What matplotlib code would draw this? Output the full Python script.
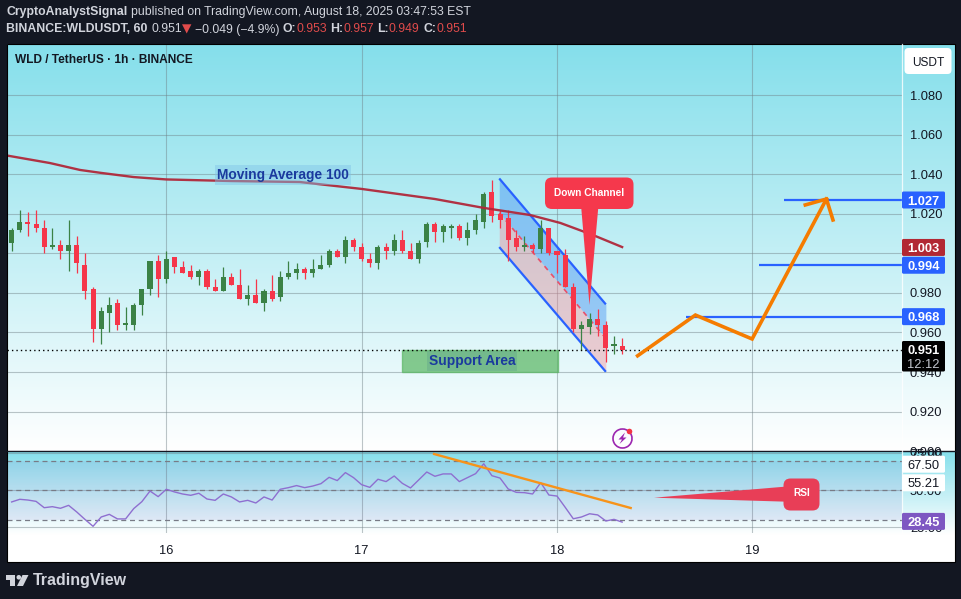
import matplotlib
matplotlib.use("Agg")
import matplotlib.pyplot as plt
import numpy as np
from matplotlib.patches import FancyBboxPatch, Polygon, Rectangle, Circle, Arc

plt.rcParams['font.family'] = ['Liberation Sans', 'DejaVu Sans']

# candles, hourly, hour 0 = Aug 16 00:00
opens = [1.005, 1.012, 1.016, 1.015, 1.013, 1.003, 1.004, 1.001, 1.004, 0.994,
	0.982, 0.962, 0.970, 0.975, 0.964, 0.964, 0.974, 0.982, 0.996, 0.987,
	0.998, 0.993, 0.991, 0.988, 0.991, 0.983, 0.981, 0.988, 0.984, 0.977,
	0.979, 0.975, 0.981, 0.978, 0.988, 0.990, 0.992, 0.990, 0.992, 0.994,
	1.001, 0.998, 1.007, 1.003, 0.997, 0.995, 1.003, 1.001, 1.007, 1.001,
	0.997, 1.006, 1.015, 1.011, 1.013, 1.014, 1.008, 1.012, 1.016, 1.031,
	1.020, 1.018, 1.008, 1.003, 1.004, 1.002, 1.013, 1.001, 0.999, 0.983,
	0.962, 0.963, 0.967, 0.964, 0.953, 0.953]
highs = [1.013, 1.022, 1.021, 1.022, 1.017, 1.013, 1.007, 1.017, 1.009, 1.000,
	0.983, 0.973, 0.978, 0.977, 0.973, 0.975, 0.982, 0.996, 0.999, 1.001,
	0.998, 0.996, 0.994, 0.992, 0.992, 0.987, 0.993, 0.990, 0.992, 0.984,
	0.987, 0.982, 0.989, 0.991, 0.996, 0.995, 0.993, 0.997, 0.999, 1.002,
	1.002, 1.009, 1.008, 1.005, 1.000, 1.004, 1.005, 1.010, 1.012, 1.005,
	1.007, 1.016, 1.016, 1.015, 1.015, 1.015, 1.016, 1.020, 1.031, 1.037,
	1.022, 1.022, 1.012, 1.009, 1.005, 1.017, 1.013, 1.001, 1.002, 0.985,
	0.966, 0.970, 0.972, 0.966, 0.958, 0.957]
lows = [1.001, 1.011, 1.009, 1.011, 1.000, 1.002, 0.997, 0.991, 0.990, 0.977,
	0.955, 0.954, 0.960, 0.961, 0.961, 0.961, 0.969, 0.979, 0.978, 0.985,
	0.990, 0.990, 0.987, 0.984, 0.982, 0.981, 0.981, 0.984, 0.977, 0.974,
	0.975, 0.971, 0.976, 0.976, 0.987, 0.987, 0.987, 0.988, 0.992, 0.993,
	0.998, 0.995, 1.001, 0.996, 0.993, 0.992, 0.997, 0.999, 1.000, 0.997,
	0.995, 1.003, 1.006, 1.006, 1.008, 1.007, 1.004, 1.010, 1.013, 1.016,
	1.013, 0.996, 1.001, 1.001, 1.000, 1.000, 0.999, 0.990, 0.983, 0.960,
	0.951, 0.959, 0.958, 0.945, 0.949, 0.949]
closes = [1.012, 1.016, 1.015, 1.013, 1.003, 1.004, 1.001, 1.004, 0.995, 0.981,
	0.962, 0.971, 0.974, 0.964, 0.965, 0.974, 0.982, 0.996, 0.987, 0.997,
	0.993, 0.990, 0.988, 0.991, 0.983, 0.981, 0.988, 0.984, 0.977, 0.979,
	0.975, 0.981, 0.977, 0.988, 0.990, 0.992, 0.990, 0.992, 0.994, 1.001,
	0.998, 1.007, 1.003, 0.997, 0.995, 1.003, 1.001, 1.007, 1.001, 0.997,
	1.005, 1.015, 1.011, 1.014, 1.014, 1.008, 1.012, 1.017, 1.030, 1.019,
	1.017, 1.007, 1.003, 1.004, 1.002, 1.013, 1.000, 0.999, 0.983, 0.962,
	0.964, 0.967, 0.964, 0.952, 0.954, 0.951]

ma_hours = [-20, -14.3, -10.6, -8, -4, 0, 8, 16.4, 24, 33, 39, 44.7, 48.4, 52.4, 56]
ma_vals = [1.0498, 1.0457, 1.0422, 1.0407, 1.0386, 1.0374, 1.0366, 1.0361,
	1.0326, 1.0275, 1.0230, 1.0194, 1.0154, 1.0093, 1.0032]

rsi_vals = [42.1, 43.9, 43.4, 42.5, 38.2, 38.9, 37.8, 39.8, 35.3, 30.3,
	25.6, 31.9, 33.7, 30.6, 30.6, 37.6, 42.3, 49.5, 45.7, 50.7,
	48.9, 47.5, 46.6, 48.0, 44.1, 43.2, 47.5, 45.5, 42.1, 43.2,
	41.4, 45.5, 43.4, 50.7, 51.8, 53.2, 51.8, 52.9, 54.5, 58.8,
	56.6, 62.0, 58.6, 53.8, 52.0, 57.5, 55.9, 59.7, 54.7, 51.6,
	57.0, 62.4, 59.5, 61.1, 61.1, 55.9, 58.6, 61.3, 68.0, 59.9,
	58.3, 50.9, 48.6, 48.4, 47.5, 55.2, 46.8, 46.1, 38.5, 30.7,
	31.9, 34.1, 33.3, 29.2, 30.3, 28.45]

price_ticks = [0.90, 0.92, 0.94, 0.96, 0.98, 1.00, 1.02, 1.04, 1.06, 1.08]
price_labels = ['0.900', '0.920', '0.940', '0.960', '0.980', '', '1.020', '1.040', '1.060', '1.080']
day_hours = [0, 24, 48, 72]
day_labels = ['16', '17', '18', '19']

# drawings the author put on the chart
chan_hours = [40.9, 54.0]
chan_top = [1.0379, 0.9742]
chan_mid = [1.0205, 0.9570]
chan_bot = [1.0032, 0.9401]
arrow_hours = [57.9, 65.0, 71.97, 81.1]
arrow_vals = [0.9482, 0.9688, 0.9567, 1.0275]
barb_hours = [78.5, 81.1, 81.9]
barb_vals = [1.0245, 1.0275, 1.0169]
target_starts = [75.9, 72.8, 63.8]
target_vals = [1.027, 0.994, 0.968]
support_hours = [28.9, 48.1]
support_vals = [0.9402, 0.9511]
rsi_trend_hours = [32.9, 57.05]
rsi_trend_vals = [74.6, 38.0]

W, H = 962, 599
bg = '#131722'
green = '#3b8246'
red = '#f5364a'
blue = '#2962ff'
txt_blue = '#1a3a9e'
grey = '#d1d4dc'


def py(p):
	return 174.3 + (1.04 - p) * 1977


def hx(x):
	return (x - 166.3) / 8.14


def box(x0, y0, x1, y1):
	return [x0 / W, 1 - y1 / H, (x1 - x0) / W, (y1 - y0) / H]


fig = plt.figure(figsize=(9.62, 5.99), dpi=100, facecolor=bg)

# backgrounds
back = fig.add_axes(box(7, 44, 955, 562))
back.axis('off')
cmap = matplotlib.colors.LinearSegmentedColormap.from_list('tv', ['#85dfeb', '#ffffff'])
grad = np.linspace(0, 1, 256).reshape(-1, 1)
back.add_patch(Rectangle((0, 44), 1, 518, color='white', zorder=0))
back.imshow(grad, cmap=cmap, extent=[0, 1, 451, 44], aspect='auto', zorder=1)
back.imshow(grad, cmap=cmap, extent=[0, 1, 535, 451], aspect='auto', zorder=1)
back.set_xlim(0, 1)
back.set_ylim(562, 44)

# price pane
ax = fig.add_axes(box(7, 44, 901.6, 451.5))
ax.patch.set_alpha(0)
ax.set_xlim(hx(7), hx(901.6))
ax.set_ylim(1.04 - (451.5 - 174.3) / 1977, 1.04 + (174.3 - 44) / 1977)
for s in ax.spines.values():
	s.set_visible(False)
ax.yaxis.tick_right()
ax.set_yticks(price_ticks)
ax.set_yticklabels(price_labels, fontsize=9.3, color='#131722')
ax.set_xticks(day_hours)
ax.set_xticklabels([])
ax.tick_params(length=0)
ax.tick_params(axis='y', pad=6)
ax.grid(True, color='#6f7f85', alpha=0.45, lw=0.8, zorder=1)
ax.set_axisbelow(True)

# channel
ax.fill_between(chan_hours, chan_mid, chan_top, color='#3d8bf2', alpha=0.42, lw=0, zorder=2)
ax.fill_between(chan_hours, chan_bot, chan_mid, color='#f5848f', alpha=0.38, lw=0, zorder=2)
ax.plot(chan_hours, chan_mid, color='#e8506a', lw=1.2, ls=(0, (3, 3)), zorder=2.5)
ax.plot(chan_hours, chan_top, color=blue, lw=1.6, zorder=2.5, solid_capstyle='butt')
ax.plot(chan_hours, chan_bot, color=blue, lw=1.6, zorder=2.5, solid_capstyle='butt')

# support area
ax.add_patch(Rectangle((support_hours[0], support_vals[0]), support_hours[1] - support_hours[0],
	support_vals[1] - support_vals[0], facecolor='#5cb765', edgecolor='#5cb765', alpha=0.72, lw=1, zorder=2))

# candles
hours = np.arange(-19, -19 + len(opens))
o = np.array(opens)
c = np.array(closes)
colors = [green if a >= b else red for a, b in zip(c, o)]
ax.vlines(hours, lows, highs, colors=colors, lw=0.9, zorder=3)
ax.bar(hours, np.abs(c - o), bottom=np.minimum(o, c), width=0.62, color=colors, lw=0, zorder=3.2)

ax.plot(ma_hours, ma_vals, color='#b0283a', lw=1.7, alpha=0.95, zorder=4)
ax.axhline(closes[-1], color='black', lw=1.0, ls=(0, (1, 2.2)), zorder=3)

# drawn targets and projected path
for st, v in zip(target_starts, target_vals):
	ax.plot([st, hx(901.6)], [v, v], color=blue, lw=1.6, zorder=4.5, solid_capstyle='butt')
ax.plot(arrow_hours, arrow_vals, color='#f57c00', lw=2.6, zorder=5, solid_joinstyle='miter')
ax.plot(barb_hours, barb_vals, color='#f57c00', lw=2.6, zorder=5, solid_joinstyle='miter')

ax.text(hx(15), 1.04 + (174.3 - 60) / 1977, 'WLD / TetherUS · 1h · BINANCE',
	fontsize=8.6, fontweight='bold', color='#131722', va='center', ha='left', zorder=6)

# RSI pane
rs = fig.add_axes(box(7, 451.5, 901.6, 533))
rs.patch.set_alpha(0)
rs.set_xlim(hx(7), hx(901.6))
rs.set_ylim(50 - (533 - 490.3) / 1.475, 50 + (490.3 - 451.5) / 1.475)
for s in rs.spines.values():
	s.set_visible(False)
rs.set_xticks(day_hours)
rs.set_xticklabels(day_labels, fontsize=9.3, color='#131722')
rs.tick_params(length=0)
rs.tick_params(axis='x', pad=9)
rs.yaxis.tick_right()
rs.set_yticks([25, 50, 75])
rs.set_yticklabels(['25.00', '50.00', '75.00'], fontsize=9.3, color='#131722')
rs.tick_params(axis='y', pad=6)
rs.grid(True, color='#6f7f85', alpha=0.45, lw=0.8)
rs.set_axisbelow(True)
rs.axhspan(30, 70, color='#7e57c2', alpha=0.10, lw=0)
for lv in [70, 50, 30]:
	rs.axhline(lv, color='#787b86', lw=0.9, ls=(0, (4, 3)))
rs.plot(hours, rsi_vals, color='#8e6fd0', lw=1.0, zorder=3)
rs.plot(rsi_trend_hours, rsi_trend_vals, color='#f7931a', lw=1.7, zorder=4)

# overlay for tags and labels, in pixels
ov = fig.add_axes([0, 0, 1, 1])
ov.set_xlim(0, W)
ov.set_ylim(H, 0)
ov.axis('off')
ov.patch.set_alpha(0)

ov.add_patch(Rectangle((7, 44), 948, 518, fill=False, edgecolor='black', lw=0.8))
ov.plot([7, 955], [451, 451], color='#131722', lw=1)
ov.plot([901.6, 901.6], [44, 535], color='white', lw=0.9, alpha=0.8)


def rbox(x0, y0, x1, y1, col, r=2, z=6):
	ov.add_patch(FancyBboxPatch((x0 + r, y0 + r), x1 - x0 - 2 * r, y1 - y0 - 2 * r,
		boxstyle='round,pad=%g,rounding_size=%g' % (r, r), facecolor=col, edgecolor='none', lw=0, zorder=z))


def tag(yc, label, col, tc='white', wt='normal'):
	rbox(902, yc - 8.5, 945, yc + 8.5, col, r=1.5)
	ov.text(923.5, yc, label, color=tc, fontsize=9.3, ha='center', va='center_baseline', zorder=7, fontweight=wt)


rbox(904.5, 48, 951.5, 74, 'white', r=4)
ov.text(928, 61, 'USDT', fontsize=8.6, color='#131722', ha='center', va='center_baseline', zorder=7)

tag(py(1.027), '1.027', blue, wt='bold')
tag(py(1.003), '1.003', '#b22833', wt='bold')
tag(py(0.994), '0.994', blue, wt='bold')
tag(py(0.968), '0.968', blue, wt='bold')
rbox(902, 341, 945, 371.5, 'black', r=1.5)
ov.text(923.5, 350, '0.951', color='white', fontsize=9.3, fontweight='bold', ha='center', va='center_baseline', zorder=7)
ov.text(923.5, 363, '12:12', color='#c4c7cf', fontsize=9.3, ha='center', va='center_baseline', zorder=7)

tag(464.2, '67.50', 'white', '#131722')
tag(482.8, '55.21', 'white', '#131722')
tag(521.4, '28.45', '#7e57c2', wt='bold')

# moving average and support labels
ov.add_patch(Rectangle((215, 165), 136, 20, color='#7fc4e8', alpha=0.45, lw=0, zorder=5))
ov.text(283, 175, 'Moving Average 100', color=txt_blue, fontsize=9.9, fontweight='bold',
	ha='center', va='center', zorder=6)
ov.add_patch(Rectangle((427, 351), 90, 20, color='#5b9f8a', alpha=0.35, lw=0, zorder=5))
ov.text(472, 361, 'Support Area', color=txt_blue, fontsize=9.9, fontweight='bold',
	ha='center', va='center', zorder=6)

# callouts
rbox(545, 177.5, 633.5, 209, '#f5384c', r=7)
ov.add_patch(Polygon([(581, 205), (598.5, 205), (589.5, 305)], closed=True, color='#f5384c', lw=0, zorder=6))
ov.text(589.5, 192.5, 'Down Channel', color='white', fontsize=7.3, fontweight='bold',
	ha='center', va='center', zorder=7)

rbox(783.5, 478.5, 819.5, 510.5, '#e83e57', r=7)
ov.add_patch(Polygon([(654, 497.7), (787, 486.5), (787, 501.7)], closed=True, color='#e83e57', lw=0, zorder=6))
ov.text(801.5, 493.5, 'RSI', color='white', fontsize=7.3, fontweight='bold',
	ha='center', va='center', zorder=7)

# alert icon
ov.add_patch(Arc((622.5, 438.5), 19, 19, theta1=0, theta2=360, color='#9c27b0', lw=1.2, zorder=6))
ov.add_patch(Polygon([(625, 432.5), (618.5, 439.5), (622, 439.5), (619.5, 444), (626.5, 437.5), (623, 437.5)],
	closed=True, color='#9c27b0', lw=0, zorder=6))
ov.add_patch(Circle((629.5, 431.5), 2.8, color='#f23645', lw=0, zorder=7))

# header
fig.canvas.draw()
rend = fig.canvas.get_renderer()


def run(x, y, parts):
	for s, col, wt in parts:
		kw = {}
		if s.strip() == '▼':
			kw['family'] = 'DejaVu Sans'
		t = ov.text(x, y, s.strip(), color=col, fontsize=8.85, fontweight=wt, ha='left', va='center', **kw)
		x = ov.transData.inverted().transform(t.get_window_extent(rend))[1][0]
		if s.endswith(' '):
			x += 3.4


pr = '#e04b4b'
run(6.5, 12.5, [('CryptoAnalystSignal ', grey, 'bold'),
	('published on TradingView.com, August 18, 2025 03:47:53 EST', grey, 'normal')])
run(6.5, 29.5, [('BINANCE:WLDUSDT, 60 ', grey, 'bold'), ('0.951', grey, 'normal'), ('▼ ', pr, 'normal'),
	('−0.049 (−4.9%) ', grey, 'normal'), ('O:', grey, 'bold'), ('0.953 ', pr, 'normal'),
	('H:', grey, 'bold'), ('0.957 ', pr, 'normal'), ('L:', grey, 'bold'), ('0.949 ', pr, 'normal'),
	('C:', grey, 'bold'), ('0.951', pr, 'normal')])

# logo
ov.add_patch(Polygon([(6, 575), (15.5, 575), (15.5, 586), (10.5, 586), (10.5, 579.5), (6, 579.5)],
	closed=True, color=grey, lw=0))
ov.add_patch(Circle((18.8, 577.3), 2.3, color=grey, lw=0))
ov.add_patch(Polygon([(22.5, 575), (28.5, 575), (23, 586), (17, 586)], closed=True, color=grey, lw=0))
ov.text(33, 580.5, 'TradingView', color=grey, fontsize=11.5, fontweight='bold', ha='left', va='center')

fig.savefig('out.png', dpi=100, facecolor=bg)
